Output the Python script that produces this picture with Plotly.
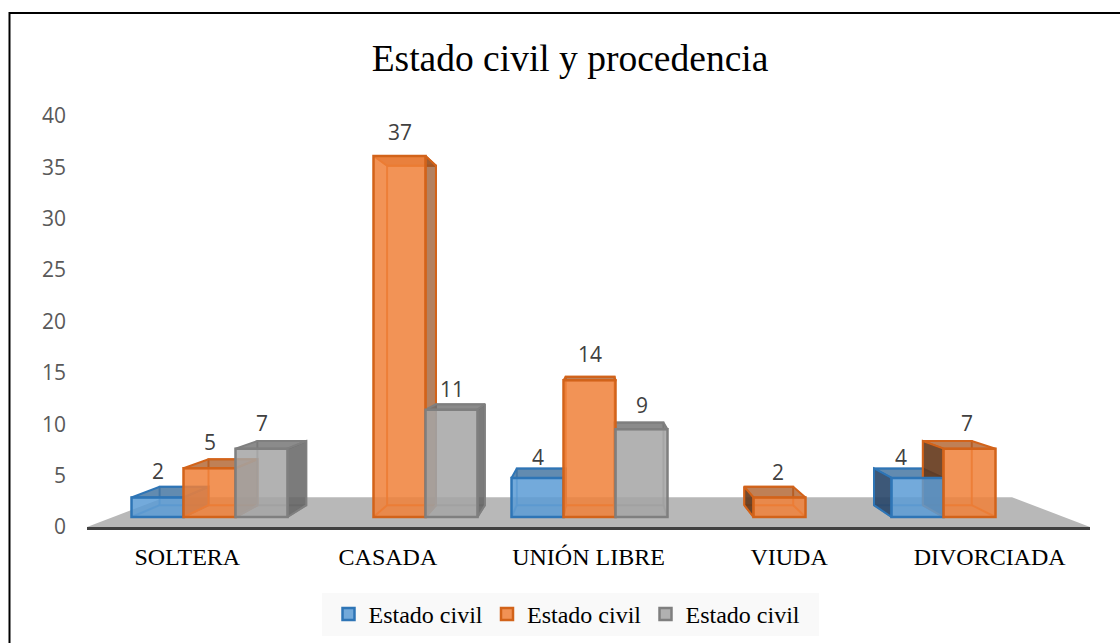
import plotly.graph_objects as go

categories = ["SOLTERA", "CASADA", "UNIÓN LIBRE", "VIUDA", "DIVORCIADA"]
series_name = "Estado civil"
serie_a = [2, None, 4, None, 4]
serie_b = [5, 37, 14, 2, 7]
serie_c = [7, 11, 9, None, None]
y_ticks = [0, 5, 10, 15, 20, 25, 30, 35, 40]

W, H = 1120, 643
X0_PX, X1_PX = 87, 1090
Y0_PX, Y40_PX = 527, 116
BASE_PX, K = 517, 9.76
px_per_x = (X1_PX - X0_PX) / 5

def fx(px):
    return (px - X0_PX) / px_per_x - 0.5

def fy(px):
    return (BASE_PX - px) / K

bar_range = [fy(Y0_PX), fy(Y40_PX)]
group_center = [fx(209.5 + 190 * i) for i in range(5)]
BAR_W = 52 / px_per_x
SCALE = 0.94
VX, VY = fx(600), fy(320)
label_xshift = {(0, 4): -17, (1, 4): -3, (1, 3): -2}
label_yshift = {(0, 2): -5, (0, 4): -5, (2, 1): -5, (2, 2): -2, (1, 1): -2, (1, 3): -1}

def back(x, y):
    return SCALE * x + (1 - SCALE) * VX, SCALE * y + (1 - SCALE) * VY

styles = [
    dict(vals=serie_a, off=-1, front="rgba(91,155,213,0.85)", line="#2E75B6",
         top="rgba(46,100,150,0.75)", right="rgba(46,100,150,0.8)", left="rgba(40,70,105,0.9)", inner="rgba(46,117,182,0.6)"),
    dict(vals=serie_b, off=0, front="rgba(240,128,56,0.85)", line="#D2631A",
         top="rgba(170,85,30,0.75)", right="rgba(150,80,35,0.72)", left="rgba(100,55,25,0.9)", inner="rgba(215,95,20,0.85)"),
    dict(vals=serie_c, off=1, front="rgba(165,165,165,0.85)", line="#7F7F7F",
         top="rgba(110,110,110,0.8)", right="rgba(100,100,100,0.85)", left="rgba(90,90,90,0.9)", inner="rgba(127,127,127,0.7)"),
]

fig = go.Figure()

# floor (on the tick axis)
fig.add_trace(go.Scatter(
    x=[-0.5, 4.5, fx(1012), fx(165), -0.5], y=[0, 0, 2.9, 2.9, 0],
    mode="lines", fill="toself", fillcolor="#B8B8B8", line=dict(width=0),
    showlegend=False, hoverinfo="skip", xaxis="x", yaxis="y"))

def poly(pts, fill, line, width=2):
    fig.add_trace(go.Scatter(
        x=[p[0] for p in pts] + [pts[0][0]], y=[p[1] for p in pts] + [pts[0][1]],
        mode="lines", fill="toself" if fill else None, fillcolor=fill,
        line=dict(color=line, width=width), showlegend=False, hoverinfo="skip",
        xaxis="x", yaxis="y2"))

annotations = []
for s, st in enumerate(styles):
    for i, v in enumerate(st["vals"]):
        if v is None:
            continue
        xc = group_center[i] + st["off"] * BAR_W
        xl, xr = xc - BAR_W / 2, xc + BAR_W / 2
        bl, br = back(xl, 0), back(xr, 0)
        tl, tr = back(xl, v), back(xr, v)
        # back outline and inner floor edges
        poly([bl, br, tr, tl], None, st["inner"])
        poly([(xl, 0), bl], None, st["inner"])
        poly([(xr, 0), br], None, st["inner"])
        # top face
        poly([(xl, v), (xr, v), tr, tl], st["top"], st["line"])
        # outer side faces
        if br[0] > xr:
            poly([(xr, 0), br, tr, (xr, v)], st["right"], st["line"])
        if bl[0] < xl:
            poly([(xl, 0), bl, tl, (xl, v)], st["left"], st["line"])
        annotations.append(dict(
            x=xc, y=v, xref="x", yref="y3", yshift=26 + label_yshift.get((s, i), 0),
            xshift=label_xshift.get((s, i), 0),
            text=str(v), showarrow=False,
            font=dict(family="Open Sans", size=21, color="#404040")))

for st in styles:
    xs = [group_center[i] + st["off"] * BAR_W for i in range(5)]
    fig.add_trace(go.Bar(
        x=xs, y=st["vals"], width=BAR_W, name=series_name,
        marker=dict(color=st["front"], line=dict(color=st["line"], width=2.5)),
        xaxis="x", yaxis="y3", hoverinfo="skip"))

fig.update_layout(
    width=W, height=H, margin=dict(l=0, r=0, t=0, b=0, pad=0, autoexpand=False), autosize=False,
    paper_bgcolor="white", plot_bgcolor="rgba(0,0,0,0)", barmode="overlay",
    title=dict(text="Estado civil y procedencia", x=570 / W, xref="paper", xanchor="center",
               y=1 - 58 / H, yref="paper", yanchor="middle", automargin=False,
               font=dict(family="Liberation Serif", size=37.5, color="#000000")),
    xaxis=dict(domain=[X0_PX / W, X1_PX / W], range=[-0.5, 4.5], tickmode="array",
               tickvals=list(range(5)), ticktext=categories, showgrid=False, zeroline=False,
               showline=True, linecolor="#404040", linewidth=3, ticks="", ticklabelstandoff=6,
               tickfont=dict(family="Liberation Serif", size=24, color="#000000")),
    yaxis=dict(domain=[(H - Y0_PX) / H, (H - Y40_PX) / H], range=[0, 40], tickmode="array",
               tickvals=y_ticks, showgrid=False, zeroline=False, showline=False, ticks="",
               ticklabelstandoff=20, tickfont=dict(family="Open Sans", size=21, color="#595959")),
    yaxis2=dict(domain=[(H - Y0_PX) / H, (H - Y40_PX) / H], range=bar_range, overlaying="y",
                visible=False),
    yaxis3=dict(domain=[(H - Y0_PX) / H, (H - Y40_PX) / H], range=bar_range, overlaying="y",
                visible=False),
    legend=dict(orientation="h", x=566.5 / W, xanchor="center", y=1 - 614.5 / H, yanchor="middle",
                bgcolor="rgba(0,0,0,0)", borderwidth=0, entrywidthmode="pixels", entrywidth=113.5,
                font=dict(family="Liberation Serif", size=24, color="#000000")),
    shapes=[
        dict(type="rect", xref="paper", yref="paper", x0=322 / W, x1=819 / W,
             y0=1 - 636 / H, y1=1 - 593 / H, fillcolor="#F9F9F9", line=dict(width=0), layer="below"),
        dict(type="path", xref="paper", yref="paper", layer="above",
             path=f"M {9.5 / W} 0 L {9.5 / W} {1 - 13 / H} L 1 {1 - 13 / H}",
             line=dict(color="#000000", width=2)),
    ],
    annotations=annotations,
)

fig.write_html("out.html", config=dict(displayModeBar=False),
               post_script="document.body.style.margin='0';document.body.style.overflow='hidden';")
